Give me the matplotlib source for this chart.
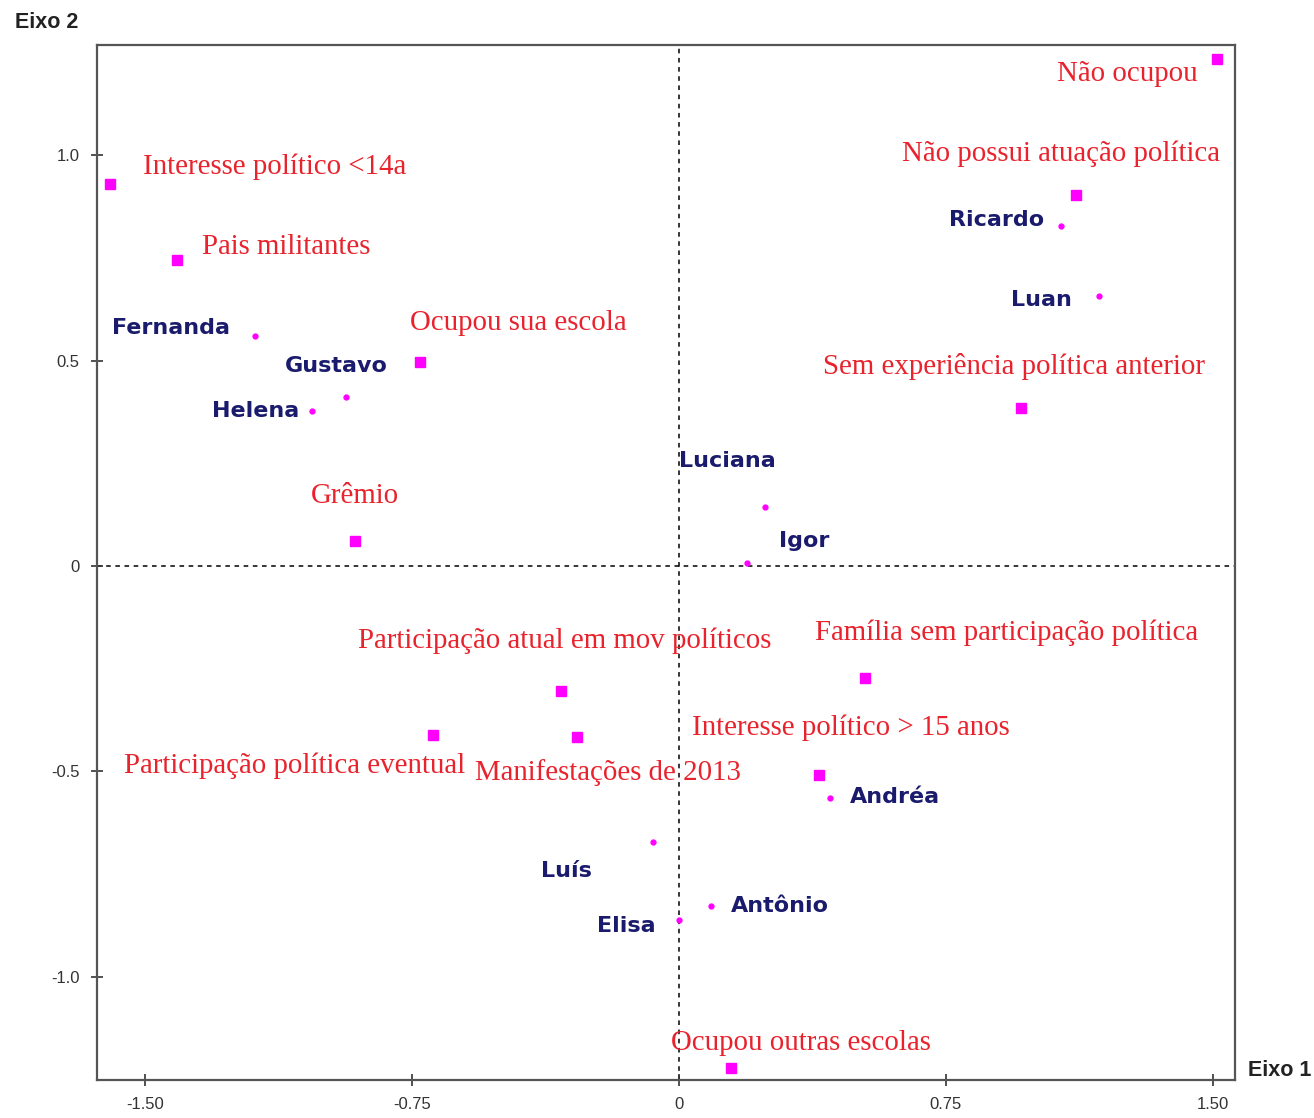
import matplotlib
matplotlib.use("Agg")
import matplotlib.pyplot as plt

# modalidades (quadrados)
cat_labels = ["Interesse político <14a", "Pais militantes", "Ocupou sua escola", "Grêmio",
              "Não ocupou", "Não possui atuação política", "Sem experiência política anterior",
              "Família sem participação política", "Participação atual em mov políticos",
              "Participação política eventual", "Manifestações de 2013",
              "Interesse político > 15 anos", "Ocupou outras escolas"]
cat_x = [-1.598, -1.410, -0.728, -0.910, 1.511, 1.115, 0.961, 0.522, -0.331, -0.691, -0.287, 0.393, 0.146]
cat_y = [0.931, 0.745, 0.497, 0.061, 1.235, 0.904, 0.385, -0.273, -0.304, -0.412, -0.417, -0.509, -1.223]

# individuos (pontos)
ind_labels = ["Fernanda", "Gustavo", "Helena", "Ricardo", "Luan", "Luciana", "Igor",
              "Andréa", "Luís", "Antônio", "Elisa"]
ind_x = [-1.191, -0.935, -1.031, 1.073, 1.180, 0.242, 0.191, 0.424, -0.073, 0.090, 0.0]
ind_y = [0.560, 0.412, 0.378, 0.828, 0.658, 0.144, 0.007, -0.565, -0.672, -0.828, -0.862]

x_ticks = [-1.50, -0.75, 0, 0.75, 1.50]
x_ticklabels = ["-1.50", "-0.75", "0", "0.75", "1.50"]
y_ticks = [-1.0, -0.5, 0, 0.5, 1.0]
y_ticklabels = ["-1.0", "-0.5", "0", "0.5", "1.0"]

# label offsets in pixels (dx, dy, ha)
cat_off = [(33, 17, "left"), (25, 13, "left"), (-10, 39, "left"), (0, 45, "center"),
           (-19, -15, "right"), (-15, 41, "center"), (-7, 41, "center"), (142, 45, "center"),
           (4, 50, "center"), (32, -31, "right"), (31, -35, "center"), (32, 47, "center"),
           (70, 25, "center")]
ind_off = [(-25, 8, "right"), (-10, 31, "center"), (-13, 0, "right"), (-17, 6, "right"),
           (-27, -4, "right"), (-38, 46, "center"), (32, 22, "left"), (20, 1, "left"),
           (-61, -29, "right"), (20, 0, "left"), (-23, -6, "right")]

fig = plt.figure(figsize=(13.14, 11.18), dpi=100)
ax = fig.add_axes([0.0738, 0.034, 0.866, 0.926])
ax.set_xlim(-1.635, 1.562)
ax.set_ylim(-1.252, 1.269)

ax.axhline(0, color="black", lw=1.1, ls=(0, (3, 3)), zorder=1)
ax.axvline(0, color="black", lw=1.1, ls=(0, (3, 3)), zorder=1)

ax.plot(cat_x, cat_y, ls="none", marker="s", ms=7, color="#ff00ff", zorder=3)
ax.plot(ind_x, ind_y, ls="none", marker="o", ms=3.5, color="#ff00ff", zorder=3)

red = "#e8232d"
for lab, x, y, (dx, dy, ha) in zip(cat_labels, cat_x, cat_y, cat_off):
    ax.annotate(lab, (x, y), xytext=(dx * 0.72, dy * 0.72), textcoords="offset points",
                ha=ha, va="center", fontsize=20.8, color=red, family="Liberation Serif")

navy = "#1b1b6e"
for lab, x, y, (dx, dy, ha) in zip(ind_labels, ind_x, ind_y, ind_off):
    ax.annotate(lab, (x, y), xytext=(dx * 0.72, dy * 0.72), textcoords="offset points",
                ha=ha, va="center", fontsize=16, color=navy, fontweight="bold",
                family="DejaVu Sans")

ax.set_xticks(x_ticks)
ax.set_xticklabels(x_ticklabels)
ax.set_yticks(y_ticks)
ax.set_yticklabels(y_ticklabels)
ax.tick_params(direction="inout", length=9, width=1.2, color="#333333",
               labelsize=12, labelcolor="#333333", pad=8)
for lbl in ax.get_xticklabels() + ax.get_yticklabels():
    lbl.set_family("Liberation Sans")
for s in ax.spines.values():
    s.set_color("#555555")
    s.set_linewidth(1.6)

fig.text(15 / 1314, 1 - 22 / 1118, "Eixo 2", ha="left", va="center", fontsize=15.5,
         fontweight="bold", family="Liberation Sans", color="#222222")
fig.text(1248 / 1314, 1 - 1071 / 1118, "Eixo 1", ha="left", va="center", fontsize=15.5,
         fontweight="bold", family="Liberation Sans", color="#222222")

plt.savefig("out.png", dpi=100)
